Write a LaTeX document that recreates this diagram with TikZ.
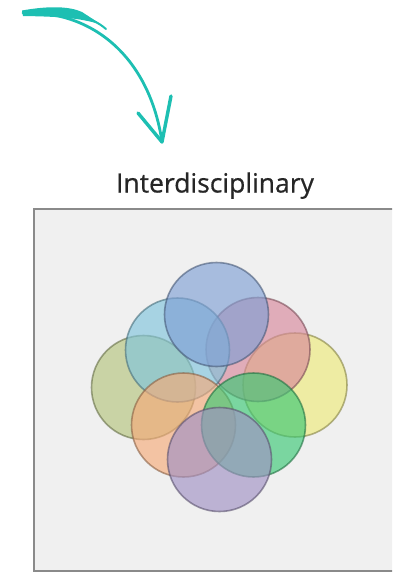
\documentclass[tikz,border=0pt]{standalone}
\usepackage{fontspec}
\setmainfont{Open Sans}
\newfontfamily\titlefont[FakeBold=0.6]{Open Sans}
\definecolor{teal}{HTML}{1DBFB2}
\definecolor{boxbg}{HTML}{F0F0F0}
\definecolor{boxline}{HTML}{8A8A8A}
\definecolor{cblue}{HTML}{7E9FD4}
\definecolor{ccyan}{HTML}{7EC4DC}
\definecolor{cred}{HTML}{D8869A}
\definecolor{colive}{HTML}{B4C47C}
\definecolor{cyellow}{HTML}{EEEA78}
\definecolor{corange}{HTML}{F6AA78}
\definecolor{cgreen}{HTML}{38C874}
\definecolor{cpurple}{HTML}{A090C4}
\tikzset{
  disc/.style={circle, minimum size=104pt, inner sep=0pt, fill=#1, fill opacity=0.64,
    draw=#1!55!black, draw opacity=0.6, line width=1.6pt},
  barb/.style={draw=teal, line width=3.4pt, line cap=round}
}
\begin{document}
\begin{tikzpicture}[x=1pt,y=-1pt]
\useasboundingbox (0,0) rectangle (392,572);
\begin{scope}
\clip (0,0) rectangle (392,572);
% box
\draw[fill=boxbg, draw=boxline, line width=1.5pt] (33.8,208.8) rectangle (400,570.8);
\end{scope}
% title
\node[text=black!85, font=\titlefont\fontsize{26.5}{30}\selectfont, anchor=base] (title) at (215,192.5) {Interdisciplinary};
% circles
\node[disc=cyellow] (yellow) at (295,385) {};
\node[disc=colive] (olive) at (143.5,387.5) {};
\node[disc=cred] (red) at (258,349.5) {};
\node[disc=ccyan] (cyan) at (177.5,350) {};
\node[disc=cblue] (blue) at (216.5,314.5) {};
\node[disc=corange] (orange) at (183.5,425) {};
\node[disc=cgreen] (green) at (253.5,425) {};
\node[disc=cpurple] (purple) at (219.5,459.5) {};
% arrow
\coordinate (start) at (23,13);
\coordinate (tip) at (162,142);
\coordinate (lb) at (138,113);
\coordinate (rb) at (171,96);
\fill[teal] (22,10.5) .. controls (50,5.5) and (70,6.5) .. (82,12) -- (102,25)
   .. controls (80,17) and (50,16.5) .. (23,16) -- cycle;
\draw[teal, line width=2pt, line cap=round] (76,14) .. controls (88,18) and (98,22) .. (106,29);
\draw[teal, line width=2.8pt, line cap=round] (start) .. controls (95,10) and (150,60) .. (tip);
\draw[barb] (tip) -- (lb);
\draw[barb] (tip) -- (rb);
\end{tikzpicture}
\end{document}
